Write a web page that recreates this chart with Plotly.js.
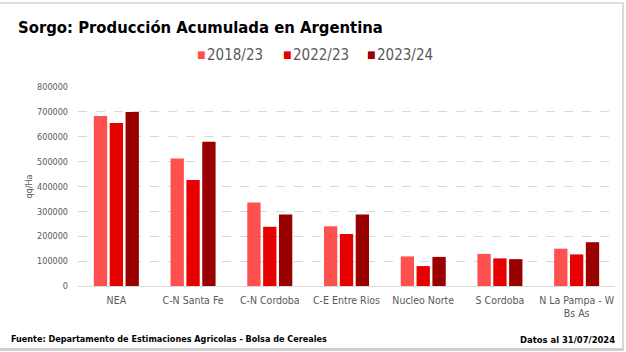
<!DOCTYPE html>
<html><head><meta charset="utf-8">
<script src="https://cdn.plot.ly/plotly-3.0.1.min.js"></script>
<style>
html,body{margin:0;padding:0;background:#fff;}
#wrap{position:relative;width:626px;height:352px;}
#chart{width:626px;height:352px;}
#frame{position:absolute;left:0;top:2px;width:622px;height:344px;border-top:2px solid #dedede;border-right:2px solid #d9d9d9;border-bottom:3px solid #d0d0d0;pointer-events:none;}
</style></head>
<body>
<div id="wrap"><div id="chart"></div><div id="frame"></div></div>
<script>
const categories = ["NEA","C-N Santa Fe","C-N Cordoba","C-E Entre Rios","Nucleo Norte","S Cordoba","N La Pampa - W<br>Bs As"];
const s2018 = [683000,513000,336000,240000,119000,129000,150000];
const s2022 = [655000,426000,238000,209000,80000,111000,127000];
const s2023 = [700000,580000,287000,287000,117000,108000,176000];
const seriesNames = ["2018/23","2022/23","2023/24"];
const colors = ["#FF5050","#E60000","#990000"];
const yTicks = [0,100000,200000,300000,400000,500000,600000,700000,800000];

const cond = "DejaVu Sans Condensed, sans-serif";
const data = [s2018,s2022,s2023].map((v,i)=>({
  type:"bar", x:categories, y:v, name:seriesNames[i],
  marker:{color:colors[i]}, hoverinfo:"none", showlegend:false
}));

// plot-area geometry helpers (paper fraction from pixel)
const L=78, R=11, T=87, B=66, W=626, H=352;
const px = p => (p-L)/(W-L-R);
const py = p => (H-B-p)/(H-T-B);

// legend drawn as text items (square + label)
const legendStarts = [195, 281, 365];
const legendAnn = [];
seriesNames.forEach((n,i)=>{
  legendAnn.push({text:"■", xref:"paper", yref:"paper", x:px(legendStarts[i]), xanchor:"left",
    y:py(55), yanchor:"middle", showarrow:false, font:{size:10,color:colors[i],family:cond}});
  legendAnn.push({text:n, xref:"paper", yref:"paper", x:px(legendStarts[i]+10), xanchor:"left",
    y:py(55), yanchor:"middle", showarrow:false, font:{size:15,color:"#595959",family:cond}});
});

const layout = {
  width:W, height:H,
  margin:{l:L,r:R,t:T,b:B},
  paper_bgcolor:"#fff", plot_bgcolor:"#fff",
  font:{family:cond, color:"#595959"},
  barmode:"group", bargap:0.38, bargroupgap:0.16,
  showlegend:false,
  title:{text:"<b>Sorgo: Producción Acumulada en Argentina</b>", xref:"container", yref:"container",
    x:18/626, xanchor:"left", y:1-27/352, yanchor:"middle",
    font:{size:16.5, color:"#000", family:cond}},
  xaxis:{tickfont:{size:10.5,color:"#595959"}, showline:true, linecolor:"#d9d9d9", linewidth:1,
    ticks:"", showgrid:false, fixedrange:true, ticklabelstandoff:4},
  yaxis:{range:[0,800000], tickvals:yTicks, ticktext:yTicks.map(String),
    tickfont:{size:9,color:"#595959"}, showgrid:true, gridcolor:"#d9d9d9", griddash:"dash",
    zeroline:false, showline:false, ticks:"", ticklabelstandoff:9,
    title:{text:"qq/Ha", font:{size:9,color:"#595959"}, standoff:2}},
  annotations:legendAnn.concat([
    {text:"<b>Fuente: Departamento de Estimaciones Agricolas - Bolsa de Cereales</b>", xref:"paper", yref:"paper",
     x:px(0), xanchor:"left", y:py(339), yanchor:"middle", showarrow:false, font:{size:9,color:"#000",family:cond}, xshift:9},
    {text:"<b>Datos al 31/07/2024</b>", xref:"paper", yref:"paper",
     x:1, xanchor:"right", y:py(339), yanchor:"middle", showarrow:false, font:{size:9.4,color:"#000",family:cond}, xshift:2}
  ])
};
Plotly.newPlot("chart", data, layout, {displayModeBar:false, staticPlot:true});
</script>
</body></html>
